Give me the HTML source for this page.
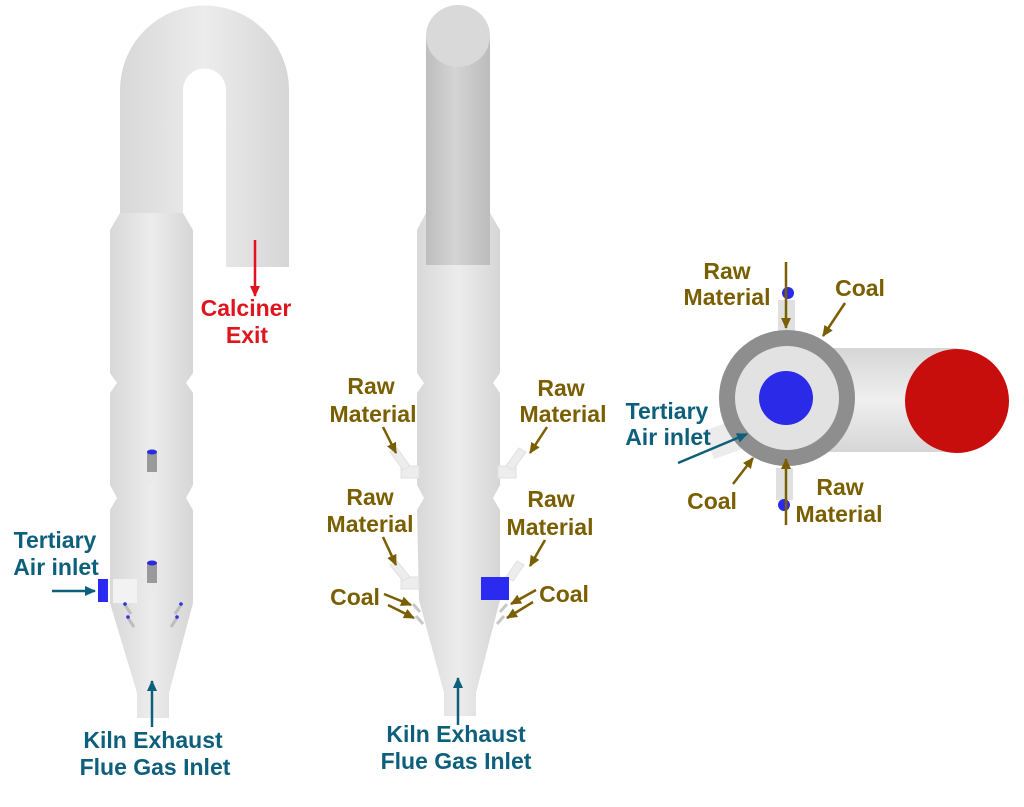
<!DOCTYPE html>
<html><head><meta charset="utf-8"><style>
html,body{margin:0;padding:0;background:#fff}
svg{display:block}
text{font-family:"Liberation Sans",Arial,sans-serif;font-weight:bold;font-size:23px;text-anchor:middle}
.o{fill:#7a5f00}.t{fill:#0d5f7c}.r{fill:#e0141e}
</style></head><body>
<svg width="1024" height="807" viewBox="0 0 1024 807" xmlns="http://www.w3.org/2000/svg">
<defs>
<linearGradient id="g" x1="0" x2="1"><stop offset="0" stop-color="#d8d8d8"/><stop offset=".5" stop-color="#ececec"/><stop offset="1" stop-color="#d6d6d6"/></linearGradient>
<linearGradient id="gd" x1="0" x2="1"><stop offset="0" stop-color="#bdbdbd"/><stop offset=".45" stop-color="#d4d4d4"/><stop offset="1" stop-color="#bcbcbc"/></linearGradient>
<linearGradient id="gv" x1="0" y1="0" x2="0" y2="1"><stop offset="0" stop-color="#d6d6d6"/><stop offset=".5" stop-color="#efefef"/><stop offset="1" stop-color="#d6d6d6"/></linearGradient>
<marker id="ao" markerWidth="12" markerHeight="12" refX="10" refY="5" orient="auto" markerUnits="userSpaceOnUse"><path d="M0,0 L11,5 L0,10 Z" fill="#7a5f00"/></marker>
<marker id="at" markerWidth="12" markerHeight="12" refX="10" refY="5" orient="auto" markerUnits="userSpaceOnUse"><path d="M0,0 L11,5 L0,10 Z" fill="#0d5f7c"/></marker>
<marker id="ar" markerWidth="12" markerHeight="12" refX="10" refY="5" orient="auto" markerUnits="userSpaceOnUse"><path d="M0,0 L11,5 L0,10 Z" fill="#e0141e"/></marker>
</defs>

<!-- LEFT calciner -->
<path d="M120,215 L120,90 A84.5,84.5 0 0 1 289,90 L289,267 L226,267 L226,90 A21.5,21.5 0 0 0 183,90 L183,215 Z" fill="url(#g)"/>
<path d="M120,213 L183,213 L193,230 L193,373 L186,383 L193,393 L193,485 L186,498 L193,510 L193,603 L169,693 L169,718 L137,718 L137,693 L110,603 L110,510 L117,498 L110,485 L110,393 L117,383 L110,373 L110,230 Z" fill="url(#g)"/>
<rect x="113" y="579" width="24" height="24" fill="#f2f2f2"/>
<rect x="98" y="579" width="10" height="23" fill="#2a2af0"/>
<rect x="147" y="452" width="10" height="20" fill="#9a9a9a"/><ellipse cx="152" cy="452" rx="5" ry="2.5" fill="#2a2ae0"/>
<rect x="147" y="472" width="10" height="12" fill="#eaeaea"/>
<rect x="147" y="563" width="10" height="20" fill="#9a9a9a"/><ellipse cx="152" cy="563" rx="5" ry="2.5" fill="#2a2ae0"/>
<rect x="147" y="583" width="10" height="12" fill="#eaeaea"/>
<g stroke="#bdbdbd" stroke-width="3"><line x1="125" y1="605" x2="131" y2="614"/><line x1="128" y1="618" x2="134" y2="627"/><line x1="181" y1="605" x2="175" y2="614"/><line x1="177" y1="618" x2="171" y2="627"/></g>
<g fill="#3030e0"><circle cx="125" cy="604" r="1.8"/><circle cx="128" cy="617" r="1.8"/><circle cx="181" cy="604" r="1.8"/><circle cx="177" cy="617" r="1.8"/></g>
<line x1="255" y1="240" x2="255" y2="296" stroke="#e0141e" stroke-width="2.5" marker-end="url(#ar)"/>
<text class="r" x="246" y="316">Calciner</text><text class="r" x="247" y="343">Exit</text>
<line x1="52" y1="591" x2="95" y2="591" stroke="#0d5f7c" stroke-width="2.5" marker-end="url(#at)"/>
<text class="t" x="55" y="548">Tertiary</text><text class="t" x="56" y="575">Air inlet</text>
<line x1="152" y1="727" x2="152" y2="681" stroke="#0d5f7c" stroke-width="2.5" marker-end="url(#at)"/>
<text class="t" x="153" y="748">Kiln Exhaust</text><text class="t" x="155" y="775">Flue Gas Inlet</text>

<!-- MIDDLE -->
<path d="M426,213 L490,213 L500,230 L500,373 L493,383 L500,393 L500,485 L493,498 L500,510 L500,600 L476,693 L476,716 L444,716 L444,693 L419,600 L417,510 L424,498 L417,485 L417,393 L424,383 L417,373 L417,230 Z" fill="url(#g)"/>
<rect x="426" y="36" width="64" height="229" fill="url(#gd)"/>
<ellipse cx="458" cy="36" rx="32" ry="31" fill="#d9d9d9"/>
<g fill="#ededed" stroke="#e0e0e0">
<rect x="401" y="466" width="18" height="12"/><polygon points="390,452 397,448 410,466 403,470"/>
<rect x="498" y="466" width="18" height="12"/><polygon points="526,452 519,448 506,466 513,470"/>
<rect x="401" y="577" width="18" height="12"/><polygon points="390,565 397,561 410,577 403,581"/>
<polygon points="524,565 517,561 506,577 513,581"/>
</g>
<rect x="481" y="577" width="28" height="23" fill="#2a2af0"/>
<g stroke="#c8c8c8" stroke-width="3"><line x1="413" y1="604" x2="420" y2="612"/><line x1="416" y1="616" x2="423" y2="624"/><line x1="507" y1="604" x2="500" y2="612"/><line x1="504" y1="616" x2="497" y2="624"/></g>
<g stroke="#7a5f00" stroke-width="2.5" fill="none">
<line x1="383" y1="427" x2="396" y2="453" marker-end="url(#ao)"/>
<line x1="547" y1="427" x2="530" y2="453" marker-end="url(#ao)"/>
<line x1="383" y1="537" x2="396" y2="565" marker-end="url(#ao)"/>
<line x1="545" y1="540" x2="530" y2="566" marker-end="url(#ao)"/>
<line x1="384" y1="594" x2="411" y2="605" marker-end="url(#ao)"/>
<line x1="388" y1="605" x2="414" y2="618" marker-end="url(#ao)"/>
<line x1="536" y1="590" x2="511" y2="604" marker-end="url(#ao)"/>
<line x1="533" y1="602" x2="507" y2="618" marker-end="url(#ao)"/>
</g>
<text class="o" x="371" y="394">Raw</text><text class="o" x="373" y="422">Material</text>
<text class="o" x="561" y="396">Raw</text><text class="o" x="563" y="422">Material</text>
<text class="o" x="370" y="505">Raw</text><text class="o" x="370" y="532">Material</text>
<text class="o" x="551" y="507">Raw</text><text class="o" x="550" y="535">Material</text>
<text class="o" x="355" y="605">Coal</text><text class="o" x="564" y="602">Coal</text>
<line x1="458" y1="725" x2="458" y2="678" stroke="#0d5f7c" stroke-width="2.5" marker-end="url(#at)"/>
<text class="t" x="456" y="742">Kiln Exhaust</text><text class="t" x="456" y="769">Flue Gas Inlet</text>

<!-- RIGHT top view -->
<rect x="787" y="348" width="170" height="104" fill="url(#gv)"/>
<rect x="708" y="425" width="30" height="30" fill="#ececec" transform="rotate(-20 723 440)"/>
<rect x="778" y="300" width="17" height="32" fill="#e0e0e0"/>
<rect x="776" y="468" width="17" height="32" fill="#e0e0e0"/>
<circle cx="787" cy="398" r="68" fill="#8e8e8e"/>
<circle cx="787" cy="398" r="52" fill="#e2e2e2"/>
<circle cx="786" cy="398" r="27" fill="#2a2ae8"/>
<circle cx="957" cy="401" r="52" fill="#c80d0d"/>
<circle cx="788" cy="293" r="6" fill="#2a2ae8"/>
<circle cx="784" cy="505" r="6" fill="#2a2ae8"/>
<g stroke="#7a5f00" stroke-width="2.5" fill="none">
<line x1="786" y1="262" x2="786" y2="328" marker-end="url(#ao)"/>
<line x1="786" y1="525" x2="786" y2="459" marker-end="url(#ao)"/>
<line x1="845" y1="303" x2="823" y2="336" marker-end="url(#ao)"/>
<line x1="733" y1="484" x2="753" y2="458" marker-end="url(#ao)"/>
</g>
<line x1="678" y1="463" x2="747" y2="434" stroke="#0d5f7c" stroke-width="2.5" marker-end="url(#at)"/>
<text class="o" x="727" y="279">Raw</text><text class="o" x="727" y="305">Material</text>
<text class="o" x="860" y="296">Coal</text>
<text class="t" x="667" y="419">Tertiary</text><text class="t" x="668" y="445">Air inlet</text>
<text class="o" x="712" y="509">Coal</text>
<text class="o" x="840" y="495">Raw</text><text class="o" x="839" y="522">Material</text>
</svg>
</body></html>
